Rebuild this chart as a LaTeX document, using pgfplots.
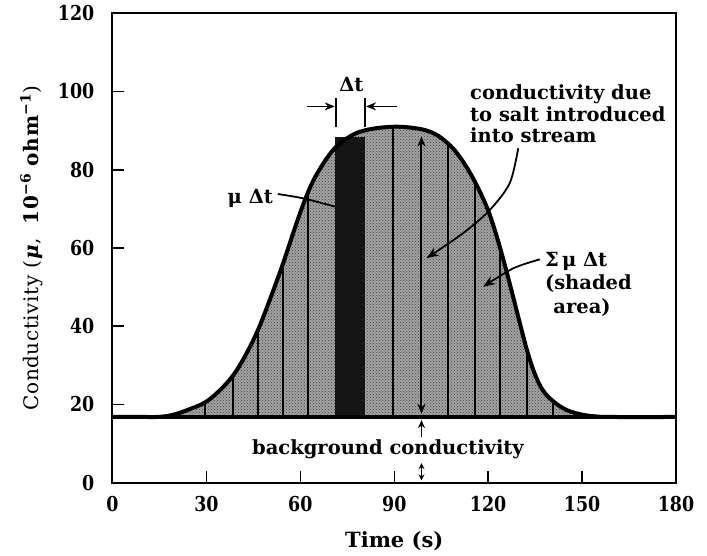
\documentclass[border=0pt]{standalone}
\usepackage{pgfplots}
\pgfplotsset{compat=1.18}
\usepackage{fontspec}
\setmainfont{DejaVu Serif}
\newfontfamily\tickfont{DejaVu Serif}[FakeStretch=0.85]
\newfontfamily\ylabfont{DejaVu Serif}[LetterSpace=3]
\usetikzlibrary{arrows.meta,patterns}
\newcommand{\lbl}{\bfseries\fontsize{19.5}{22}\selectfont}
\begin{document}
\begin{tikzpicture}
\useasboundingbox (-112.5pt,-72.3pt) rectangle (594.5pt,482.7pt);
\begin{axis}[
  at={(0,0)}, anchor=south west,
  scale only axis, width=563.5pt, height=469.4pt,
  xmin=0, xmax=180, ymin=0, ymax=120,
  xtick={0,30,...,180}, ytick={0,20,...,120},
  tick pos=left, tick align=inside,
  major tick length=12pt,
  every tick/.style={black, line width=1.5pt},
  axis line style={line width=2pt},
  /pgf/number format/assume math mode=true,
  ticklabel style={font=\tickfont\bfseries\fontsize{20.5}{22}\selectfont},
  xticklabel style={inner sep=0pt, anchor=north, yshift=-13pt},
  yticklabel style={inner sep=0pt, anchor=east, xshift=-18pt},
  xlabel={Time (s)},
  xlabel style={font=\bfseries\fontsize{21}{22}\selectfont, at={(axis description cs:0.5,-0.1254)}, anchor=center},
  ylabel={Conductivity (\textbf{\textit{μ}},\ \ \textbf{10\textsuperscript{−6} ohm\textsuperscript{−1}})},
  ylabel style={font=\ylabfont\fontsize{20}{22}\selectfont, at={(axis description cs:-0.1437,0.5)}, anchor=center},
  clip=false,
]
% shaded area between curve and background
\addplot[draw=none, fill=black!36, postaction={pattern=crosshatch dots, pattern color=black!75}]
 coordinates {(14,16.8) (17,17) (20,17.5) (24,18.6) (29.5,20.5) (34,23.4) (38.5,27.4) (42.5,32.6)
 (46.5,39.1) (50.5,47.3) (54.5,56.1) (58,64.5) (61,71.3) (64,77) (67.5,81.8) (71,85.5) (75,88.1)
 (79,89.7) (84,90.6) (90,91) (95,90.8) (100,90.1) (104,88.7) (108,86.1) (111,83.2) (114,79.5)
 (117,75) (120,69.6) (122.5,63.6) (125,56.6) (127.5,49) (130,41.2) (132.5,33.6) (135,27.6)
 (137.5,23.6) (140.8,20.8) (145,18.6) (150,17.4) (155,16.9) (158,16.8)} -- cycle;
% dark bar mu*Delta t
\addplot[draw=none, fill=black!92] coordinates {(71,16.8) (71,88.3) (80.8,88.3) (80.8,16.8)} -- cycle;
% vertical divisions
\addplot[line width=2pt] coordinates {(29.5,16.8) (29.5,20.5)};
\addplot[line width=2pt] coordinates {(38.5,16.8) (38.5,27.4)};
\addplot[line width=2pt] coordinates {(46.5,16.8) (46.5,39.1)};
\addplot[line width=2pt] coordinates {(54.5,16.8) (54.5,56.1)};
\addplot[line width=2pt] coordinates {(62.5,16.8) (62.5,74.5)};
\addplot[line width=2pt] coordinates {(89.6,16.8) (89.6,91)};
\addplot[line width=2pt] coordinates {(107.2,16.8) (107.2,86.7)};
\addplot[line width=2pt] coordinates {(115.8,16.8) (115.8,77)};
\addplot[line width=2pt] coordinates {(123.7,16.8) (123.7,60.6)};
\addplot[line width=2pt] coordinates {(132.3,16.8) (132.3,34.2)};
\addplot[line width=2pt] coordinates {(140.8,16.8) (140.8,20.8)};
% background line
\addplot[line width=4.5pt] coordinates {(0,16.8) (180,16.8)};
% conductivity curve
\addplot[line width=4pt, smooth, tension=0.6] coordinates {(0,16.8) (10,16.8) (14,16.8) (17,17) (20,17.5)
 (24,18.6) (29.5,20.5) (34,23.4) (38.5,27.4) (42.5,32.6) (46.5,39.1) (50.5,47.3) (54.5,56.1) (58,64.5)
 (61,71.3) (64,77) (67.5,81.8) (71,85.5) (75,88.1) (79,89.7) (84,90.6) (90,91) (95,90.8) (100,90.1)
 (104,88.7) (108,86.1) (111,83.2) (114,79.5) (117,75) (120,69.6) (122.5,63.6) (125,56.6) (127.5,49)
 (130,41.2) (132.5,33.6) (135,27.6) (137.5,23.6) (140.8,20.8) (145,18.6) (150,17.4) (155,16.9)
 (160,16.8) (180,16.8)};
% annotations
\draw[line width=2pt, {Stealth[length=10pt,width=8pt]}-{Stealth[length=10pt,width=8pt]}] (98.7,17.6) -- (98.7,88.5);
\draw[line width=1.5pt, -{Stealth[length=8pt,width=7pt]}] (98.7,11.8) -- (98.7,16);
\draw[line width=1.5pt, {Stealth[length=6pt,width=6pt]}-{Stealth[length=6pt,width=6pt]}] (98.7,5) -- (98.7,0.6);
\draw[line width=1.6pt, -{Stealth[length=10pt,width=8pt]}] (62.2,96.2) -- (71,96.2);
\draw[line width=1.6pt] (71.3,91) -- (71.3,98.3);
\draw[line width=1.6pt] (80.6,91) -- (80.6,98.3);
\draw[line width=1.6pt, -{Stealth[length=10pt,width=8pt]}] (91,96.2) -- (81,96.2);
\node[font=\lbl] at (76.3,101.7) {Δt};
\node[font=\lbl, anchor=east, inner sep=0pt] at (51.3,72.7) {μ Δt};
\draw[line width=1.8pt] plot[smooth] coordinates {(52.8,73.8) (60.9,72.7) (71,70.6)};
\node[font=\lbl, anchor=base west, inner sep=0pt] at (114.2,97.9) {conductivity due};
\node[font=\lbl, anchor=base west, inner sep=0pt] at (114.2,92.4) {to salt introduced};
\node[font=\lbl, anchor=base west, inner sep=0pt] at (114.2,86.9) {into stream};
\draw[line width=1.8pt, -{Stealth[length=12pt,width=9pt]}] plot[smooth] coordinates {(129.6,85.5) (126.9,76.6) (120.5,69.7) (112,63.8) (100.3,57.4)};
\node[font=\lbl, anchor=base west, inner sep=0pt] at (138.1,55.2) {Σ\,μ Δt};
\node[font=\lbl, anchor=base west, inner sep=0pt] at (138.1,49.3) {(shaded};
\node[font=\lbl, anchor=base west, inner sep=0pt] at (140.8,43.3) {area)};
\draw[line width=1.8pt, -{Stealth[length=12pt,width=9pt]}] plot[smooth] coordinates {(136.5,57.1) (128,54.8) (118.4,50.1)};
\node[font=\lbl, anchor=base, inner sep=0pt] at (88,7.1) {background conductivity};
\end{axis}
\end{tikzpicture}
\end{document}
